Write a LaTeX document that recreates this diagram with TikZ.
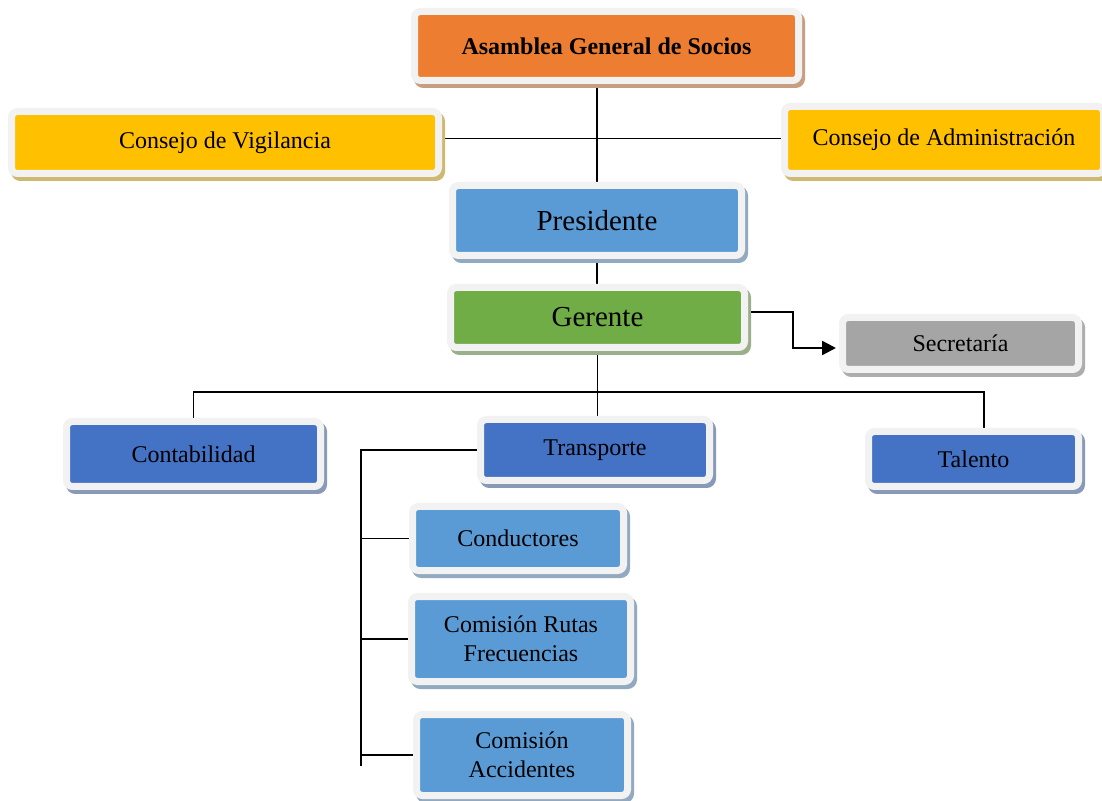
\documentclass[tikz,border=0pt]{standalone}
\usepackage{fontspec}
\setmainfont{Liberation Serif}
\usetikzlibrary{shadows,arrows.meta,backgrounds}

\definecolor{framegray}{HTML}{F2F2F2}
\definecolor{orangebox}{HTML}{ED7D31}
\definecolor{yellowbox}{HTML}{FFC000}
\definecolor{lightbluebox}{HTML}{5B9BD5}
\definecolor{greenbox}{HTML}{70AD47}
\definecolor{graybox}{HTML}{A5A5A5}
\definecolor{bluebox}{HTML}{4472C4}

\begin{document}
\begin{tikzpicture}[x=0.5pt, y=-0.5pt,
    orgbox/.style={draw=framegray, line width=3.5pt, rounded corners=3pt,
        fill=#1, inner sep=2pt, align=center,
        font=\fontsize{12}{14.5}\selectfont,
        drop shadow={shadow xshift=1.5pt, shadow yshift=-2pt, opacity=1,
            fill=#1!50!gray!75!white, draw=#1!50!gray!75!white}},
    bigtext/.style={font=\fontsize{14.5}{17}\selectfont},
    link/.style={line width=0.9pt}]
        \useasboundingbox (0,0) rectangle (1102,801);

        % Top level
        \node[orgbox=orangebox, font=\fontsize{12}{14.5}\selectfont\bfseries,
            minimum width=192pt, minimum height=34.5pt] (asamblea) at (606.5,46) {Asamblea General de Socios};
        \node[orgbox=yellowbox, minimum width=213.5pt, minimum height=31pt] (vigilancia) at (225,142.5) {Consejo de Vigilancia};
        \node[orgbox=yellowbox, minimum width=159.5pt, minimum height=33.5pt] (administracion) at (944,140) {Consejo de Administración};

        % Presidente and Gerente
        \node[orgbox=lightbluebox, bigtext, minimum width=144.5pt, minimum height=35pt] (presidente) at (597,220.5) {Presidente};
        \node[orgbox=greenbox, bigtext, minimum width=147pt, minimum height=30pt] (gerente) at (597.5,317.5) {Gerente};
        \node[orgbox=graybox, minimum width=118pt, minimum height=26pt] (secretaria) at (960.5,343.5) {Secretaría};

        % Departments
        \node[orgbox=bluebox, minimum width=127pt, minimum height=32.5pt] (contabilidad) at (193.5,454) {Contabilidad};
        \node[orgbox=bluebox, minimum width=114.5pt, minimum height=30.5pt] (transporte) at (595,450) {Transporte};
        \node[orgbox=bluebox, minimum width=105pt, minimum height=27.5pt] (talento) at (973.5,459) {Talento};

        % Under Transporte
        \node[orgbox=lightbluebox, minimum width=105.5pt, minimum height=32pt] (conductores) at (518,538.5) {Conductores};
        \node[orgbox=lightbluebox, minimum width=109.5pt, minimum height=42.5pt] (rutas) at (521,639) {Comisión Rutas\\Frecuencias};
        \node[orgbox=lightbluebox, minimum width=105.5pt, minimum height=40.5pt] (accidentes) at (522,755) {Comisión\\Accidentes};

        \coordinate (hub) at (598,392);
        \coordinate (busend) at (361,766);

        % Connectors
        \begin{scope}[on background layer]
            \draw[link] (presidente.north |- asamblea.south) -- (presidente.north);
            \draw[link] ([yshift=2pt]vigilancia.east) -- ([yshift=2pt]vigilancia.east -| administracion.west);
            \draw[link] (presidente.south) -- (presidente.south |- gerente.north);
            \draw[line width=1.2pt, -{Triangle[length=7pt,width=7pt]}, shorten >=1.5pt]
                ([yshift=2.75pt]gerente.east) -- ++(45,0) |- ([yshift=-2.25pt]secretaria.west);
            \draw[link] (gerente.south) -- (gerente.south |- transporte.north);
            \draw[link] (contabilidad.north) |- (hub) -| ([xshift=5.25pt]talento.north);
            \draw[link] (transporte.west) -| (busend);
            \draw[link] (busend |- conductores.west) -- (conductores.west);
            \draw[link] (busend |- rutas.west) -- (rutas.west);
            \draw[link] (busend |- accidentes.west) -- (accidentes.west);
        \end{scope}
    \end{tikzpicture}
\end{document}
